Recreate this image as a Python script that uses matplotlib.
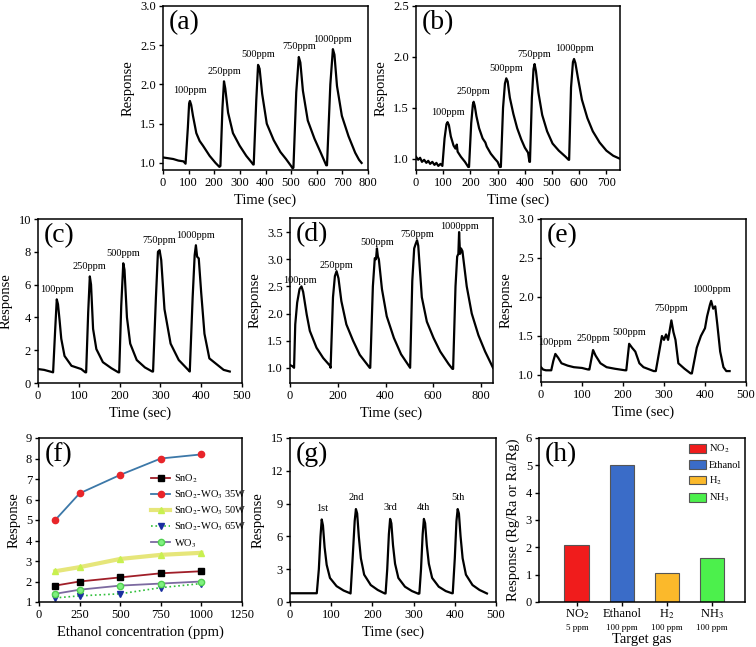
import matplotlib
matplotlib.use("Agg")
import matplotlib.pyplot as plt
import matplotlib.transforms as mtransforms

plt.rcParams['font.family'] = ['Liberation Serif', 'DejaVu Serif']
plt.rcParams['mathtext.fontset'] = 'stix'
plt.rcParams['font.size'] = 9

# ---------------- data ----------------
ppm_labels = ['100ppm', '250ppm', '500ppm', '750ppm', '1000ppm']

# (a)
t_a = [0, 20, 40, 60, 80, 88, 97, 102, 105, 110, 117, 130, 143, 156, 182, 205, 220,
       224, 232, 238, 243, 254, 273, 299, 325, 345, 352,
       354, 364, 371, 377, 387, 405, 432, 458, 480, 500, 506,
       509, 520, 530, 536, 546, 565, 591, 617, 637,
       640, 653, 663, 669, 679, 698, 724, 750, 765, 775]
r_a = [1.07, 1.06, 1.05, 1.03, 1.02, 0.99, 1.45, 1.76, 1.79, 1.74, 1.60, 1.38, 1.28, 1.22, 1.09, 1.00, 0.95,
       0.96, 1.70, 2.04, 1.95, 1.64, 1.38, 1.22, 1.09, 1.01, 0.98,
       0.98, 1.80, 2.25, 2.20, 1.88, 1.50, 1.29, 1.14, 1.05, 0.96, 0.93,
       0.94, 1.90, 2.35, 2.28, 1.92, 1.54, 1.31, 1.12, 0.97,
       0.97, 2.00, 2.45, 2.38, 1.98, 1.60, 1.34, 1.13, 1.04, 1.00]
peaks_a = [(104, 1.79), (238, 2.04), (371, 2.25), (530, 2.35), (663, 2.45)]

# (b)
t_b = [0, 8, 15, 22, 30, 38, 45, 52, 60, 68, 75, 82, 90, 97,
       105, 112, 116, 121, 128, 138, 145, 150, 153, 165, 180, 192,
       195, 203, 209, 212, 216, 222, 232, 245, 255, 260, 275, 290, 300, 308,
       312, 320, 327, 332, 337, 345, 358, 372, 387, 400, 412, 417,
       419, 426, 432, 436, 441, 450, 464, 482, 502, 525, 550, 561,
       563, 570, 577, 581, 586, 595, 610, 630, 650, 675, 700, 725, 750]
r_b = [1.02, 0.99, 1.01, 0.97, 0.99, 0.96, 0.98, 0.95, 0.97, 0.94, 0.96, 0.93, 0.95, 0.93,
       1.20, 1.34, 1.36, 1.33, 1.22, 1.13, 1.10, 1.14, 1.07, 1.02, 0.97, 0.92,
       0.92, 1.35, 1.53, 1.56, 1.52, 1.42, 1.30, 1.20, 1.16, 1.12, 1.05, 1.00, 0.97, 0.92,
       0.92, 1.50, 1.74, 1.79, 1.76, 1.60, 1.44, 1.30, 1.19, 1.11, 1.06, 0.97,
       0.97, 1.60, 1.88, 1.93, 1.86, 1.65, 1.43, 1.27, 1.15, 1.08, 1.02, 0.99,
       0.99, 1.70, 1.95, 1.98, 1.94, 1.80, 1.58, 1.40, 1.27, 1.16, 1.08, 1.03, 1.00]
peaks_b = [(116, 1.36), (212, 1.56), (332, 1.79), (436, 1.93), (581, 1.98)]

# (c)
t_c = [0, 15, 37, 42, 46, 49, 53, 57, 65, 82, 106, 116,
       118, 123, 127, 130, 135, 143, 159, 180, 197,
       199, 204, 209, 212, 218, 226, 242, 262, 280,
       282, 289, 294, 298, 302, 310, 325, 345, 370,
       372, 379, 384, 387, 390, 394, 400, 408, 420, 440, 455, 470]
r_c = [0.85, 0.80, 0.65, 3.2, 5.1, 4.8, 3.8, 2.7, 1.65, 1.05, 0.85, 0.65,
       0.65, 4.3, 6.5, 6.0, 3.3, 2.07, 1.27, 0.90, 0.65,
       0.65, 4.7, 7.3, 6.9, 4.0, 2.4, 1.40, 0.95, 0.70,
       0.70, 5.2, 8.0, 8.1, 7.5, 4.5, 2.4, 1.40, 0.75,
       0.70, 5.2, 7.8, 8.4, 7.7, 7.6, 5.5, 3.0, 1.50, 1.10, 0.80, 0.70]
peaks_c = [(46, 5.1), (127, 6.5), (209, 7.3), (296, 8.1), (387, 8.4)]

# (d)
t_d = [0, 10, 17, 22, 30, 40, 48, 55, 70, 83, 111, 139, 167,
       170, 180, 188, 195, 203, 215, 236, 264, 292, 327, 334,
       336, 347, 355, 360, 364, 368, 372, 385, 405, 435, 465, 500,
       503, 512, 520, 526, 532, 537, 552, 573, 601, 629, 664, 680,
       683, 693, 700, 705, 708, 712, 716, 722, 740, 761, 789, 817, 850]
r_d = [1.05, 1.03, 1.00, 1.80, 2.20, 2.45, 2.50, 2.40, 1.98, 1.68, 1.37, 1.18, 1.04,
       1.00, 2.30, 2.69, 2.78, 2.65, 2.23, 1.80, 1.50, 1.24, 1.04, 1.00,
       1.00, 2.50, 3.02, 3.00, 3.20, 3.05, 3.00, 2.45, 1.95, 1.55, 1.25, 1.02,
       1.00, 2.60, 3.20, 3.28, 3.35, 3.25, 2.30, 1.85, 1.55, 1.30, 1.07, 0.98,
       0.98, 2.50, 3.05, 3.10, 3.50, 3.10, 3.20, 3.15, 2.50, 2.00, 1.60, 1.30, 1.00]
peaks_d = [(40, 2.50), (195, 2.78), (364, 3.20), (532, 3.35), (708, 3.50)]

# (e)
t_e = [0, 5, 12, 25, 30, 35, 42, 50, 65, 80, 100, 115,
       118, 127, 133, 145, 160, 180, 205,
       208, 215, 222, 230, 240, 250, 265, 275,
       280, 290, 295, 300, 305, 310, 318, 323, 328, 335, 350, 365,
       368, 380, 390, 395, 400, 405, 412, 415, 420, 425, 430, 437, 445, 452, 460]
r_e = [1.10, 1.07, 1.06, 1.06, 1.18, 1.27, 1.22, 1.15, 1.12, 1.10, 1.09, 1.07,
       1.07, 1.32, 1.25, 1.15, 1.10, 1.08, 1.06,
       1.06, 1.40, 1.35, 1.30, 1.15, 1.10, 1.07, 1.05,
       1.05, 1.35, 1.50, 1.45, 1.52, 1.45, 1.70, 1.55, 1.45, 1.15, 1.08, 1.02,
       1.02, 1.35, 1.50, 1.55, 1.60, 1.75, 1.90, 1.95, 1.85, 1.88, 1.65, 1.30, 1.10, 1.05, 1.05]
peaks_e = [(35, 1.27), (127, 1.32), (215, 1.40), (318, 1.70), (415, 1.95)]

# (f)
conc = [100, 250, 500, 750, 1000]
resp_sno2 = [1.8, 2.0, 2.2, 2.4, 2.5]
resp_35w = [5.0, 6.3, 7.2, 8.0, 8.2]
resp_50w = [2.5, 2.7, 3.1, 3.3, 3.4]
resp_65w = [1.2, 1.3, 1.4, 1.7, 1.9]
resp_wo3 = [1.4, 1.6, 1.8, 1.9, 2.0]

# (g)
t_g = [0, 30, 65, 70, 74, 77, 80, 84, 89, 97, 113, 130, 146,
       147, 152, 157, 160, 163, 167, 172, 180, 196, 213, 230,
       232, 236, 240, 243, 246, 250, 255, 263, 279, 296, 312,
       314, 318, 322, 325, 328, 332, 337, 345, 361, 378, 393,
       395, 400, 404, 407, 410, 414, 419, 427, 443, 460, 478]
r_g = [0.8, 0.8, 0.8, 3.0, 6.0, 7.55, 7.0, 5.0, 3.4, 2.2, 1.45, 1.05, 0.8,
       0.78, 4.0, 7.4, 8.5, 8.1, 6.0, 4.0, 2.5, 1.55, 1.1, 0.78,
       0.78, 3.0, 6.2, 7.6, 7.2, 5.2, 3.5, 2.2, 1.4, 1.0, 0.75,
       0.78, 3.0, 6.2, 7.6, 7.2, 5.2, 3.5, 2.2, 1.4, 1.0, 0.8,
       0.8, 4.0, 7.4, 8.5, 8.1, 6.0, 4.0, 2.5, 1.55, 1.1, 0.78]
peaks_g = [(77, 7.55), (160, 8.5), (243, 7.6), (325, 7.6), (407, 8.5)]
cycle_labels = ['1st', '2nd', '3rd', '4th', '5th']

# (h)
gases = ['NO$_2$', 'Ethanol', 'H$_2$', 'NH$_3$']
gas_conc = ['5 ppm', '100 ppm', '100 ppm', '100 ppm']
gas_resp = [2.1, 5.0, 1.07, 1.6]
gas_colors = ['#f01c1c', '#3a6cc8', '#fbb92b', '#4cf04c']

# ---------------- layout ----------------
W, H = 756, 647
fig = plt.figure(figsize=(W / 100, H / 100), dpi=100)


def px_axes(l, r, t, b):
    return fig.add_axes([l / W, 1 - b / H, (r - l) / W, (b - t) / H])


def style(ax, letter):
    for s in ax.spines.values():
        s.set_linewidth(1.1)
    ax.tick_params(direction='out', length=3, width=1, labelsize=9, pad=2)
    ax.text(0.03, 0.975, letter, transform=ax.transAxes, fontsize=20,
            va='top', ha='left')
    ax.set_ylabel('Response', fontsize=10.5, labelpad=4)


def curve_panel(ax, t, r, peaks, labels, letter, xlim, ylim, xticks, yticks, yfmt, dy):
    ax.plot(t, r, color='black', lw=1.6, solid_joinstyle='round')
    for (px, py), lab in zip(peaks, labels):
        ax.annotate(lab, (px, py), xytext=(0, dy), textcoords='offset points',
                    ha='center', va='bottom', fontsize=7.5)
    ax.set_xlim(*xlim)
    ax.set_ylim(*ylim)
    ax.set_xticks(xticks)
    ax.set_yticks(yticks)
    ax.set_yticklabels([yfmt.format(v) for v in yticks])
    ax.set_xlabel('Time (sec)', fontsize=10.5, labelpad=3)
    style(ax, letter)


ax = px_axes(163, 368, 6, 170)
curve_panel(ax, t_a, r_a, peaks_a, ppm_labels, '(a)', (0, 800), (0.91, 3.0),
            range(0, 801, 100), [1.0, 1.5, 2.0, 2.5, 3.0], '{:.1f}', 4)

ax = px_axes(416, 620, 6, 170)
curve_panel(ax, t_b, r_b, peaks_b, ppm_labels, '(b)', (0, 750), (0.89, 2.5),
            range(0, 701, 100), [1.0, 1.5, 2.0, 2.5], '{:.1f}', 4)

ax = px_axes(38, 242, 219, 383)
curve_panel(ax, t_c, r_c, peaks_c, ppm_labels, '(c)', (0, 500), (0, 10),
            range(0, 501, 100), [0, 2, 4, 6, 8, 10], '{:.0f}', 4)

ax = px_axes(290, 493, 218, 383)
curve_panel(ax, t_d, r_d, peaks_d, ppm_labels, '(d)', (0, 850), (0.72, 3.76),
            range(0, 801, 200), [1.0, 1.5, 2.0, 2.5, 3.0, 3.5], '{:.1f}', 1)

ax = px_axes(541, 746, 219, 382)
curve_panel(ax, t_e, r_e, peaks_e, ppm_labels, '(e)', (0, 500), (0.91, 3.0),
            range(0, 501, 100), [1.0, 1.5, 2.0, 2.5, 3.0], '{:.1f}', 5)

# (f)
ax = px_axes(39, 242, 438, 602)
ax.plot(conc, resp_sno2, color='#a01e28', lw=1.3, marker='s', ms=4,
        mfc='black', mec='black', label='SnO$_2$')
ax.plot(conc, resp_35w, color='#3c78a8', lw=1.3, marker='o', ms=4.5,
        mfc='#e8252a', mec='#e8252a', label='SnO$_2$-WO$_3$ 35W')
ax.plot(conc, resp_50w, color='#e6e67a', lw=3, marker='^', ms=5,
        mfc='#c8f050', mec='#c8f050', label='SnO$_2$-WO$_3$ 50W')
ax.plot(conc, resp_65w, color='#2fbf3a', lw=1.2, ls=':', marker='v', ms=5,
        mfc='#1a2ea0', mec='#1a2ea0', label='SnO$_2$-WO$_3$ 65W')
ax.plot(conc, resp_wo3, color='#7c6aa0', lw=1.3, marker='o', ms=4.5,
        mfc='#80f080', mec='#50d050', label='WO$_3$')
ax.set_xlim(0, 1250)
ax.set_ylim(1, 9)
ax.set_xticks(range(0, 1251, 250))
ax.set_yticks(range(1, 10))
ax.set_xlabel('Ethanol concentration (ppm)', fontsize=10.5, labelpad=3)
style(ax, '(f)')
ax.legend(loc='upper left', bbox_to_anchor=(0.55, 0.79), frameon=False,
          fontsize=7.5, handlelength=1.9, handletextpad=0.3,
          labelspacing=0.35, borderaxespad=0, borderpad=0)

# (g)
ax = px_axes(290, 496, 438, 602)
curve_panel(ax, t_g, r_g, peaks_g, cycle_labels, '(g)', (0, 500), (0, 15),
            range(0, 501, 100), [0, 3, 6, 9, 12, 15], '{:.0f}', 5)

# (h)
ax = px_axes(539, 745, 438, 602)
xpos = list(range(len(gases)))
for x, v, c, g in zip(xpos, gas_resp, gas_colors, gases):
    ax.bar(x, v, width=0.55, color=c, edgecolor='#555555', lw=0.8, label=g)
ax.set_xlim(-0.84, 3.73)
ax.set_ylim(0, 6)
ax.set_xticks(xpos)
ax.set_xticklabels(gases, fontsize=9.5)
ax.set_yticks(range(0, 7))
trans = mtransforms.blended_transform_factory(ax.transData, ax.transAxes)
for x, c in zip(xpos, gas_conc):
    ax.text(x, -0.158, c, transform=trans, ha='center', va='center', fontsize=6.5)
style(ax, '(h)')
ax.tick_params(axis='x', pad=1)
ax.set_xlabel('Target gas', fontsize=10.5)
ax.xaxis.set_label_coords(0.5, -0.19)
ax.set_ylabel('Response (Rg/Ra or Ra/Rg)', fontsize=10.5, labelpad=4)
ax.legend(loc='upper left', bbox_to_anchor=(0.73, 0.97), frameon=False,
          fontsize=7.5, handlelength=1.6, handleheight=0.9, handletextpad=0.3,
          labelspacing=0.45, borderaxespad=0, borderpad=0)

fig.savefig('out.png', dpi=100)
